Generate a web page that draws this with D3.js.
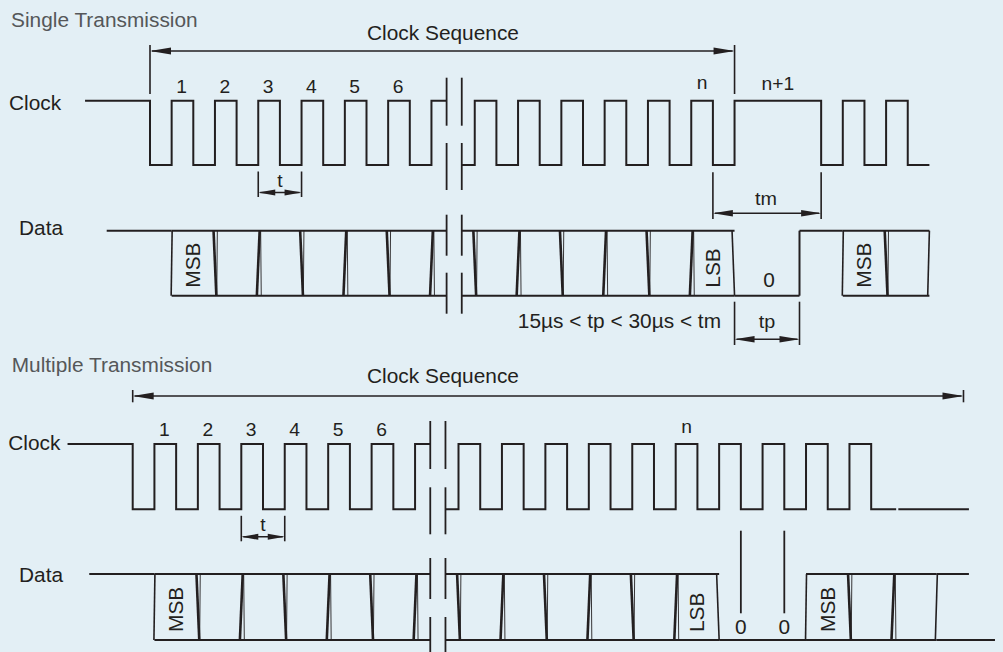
<!DOCTYPE html>
<html><head><meta charset="utf-8">
<script src="https://cdn.jsdelivr.net/npm/d3@7/dist/d3.min.js"></script>
<style>
html,body{margin:0;padding:0;background:#e3eff5;}
svg{display:block;}
text{font-family:"Liberation Sans",Arial,Helvetica,sans-serif;}
</style></head><body>
<svg id="chart" width="1003" height="652"></svg>
<script>
// ================= DATA (time unit = one clock half-period) =================
const pulseNumbers   = ["1","2","3","4","5","6"];
const pulseNumberAt  = [1.5, 3.5, 5.5, 7.5, 9.5, 11.5];
const breakSpan      = [13.7, 14.4];

// Single transmission
const singleClockHigh  = [[-3,0],[1,2],[3,4],[5,6],[7,8],[9,10],[11,12],[13,14],[15,16],[17,18],[19,20],[21,22],[23,24],[25,26],[27,31],[32,33],[34,35]];
const singleClockEnd   = 36;
const singleClockMarks = ["n", "n+1"];
const singleClockMarkAt= [25.5, 29];
const singleDataStates = [["high",-2,1],["bus",1,27],["low",27,30],["high",30,32],["bus",32,36]];
const singleCellLabels = ["MSB","LSB","MSB"];
const singleCellLabelAt= [1, 25, 32];
const singleZeroAt     = [28.5];
const singleSequence   = [0, 27];
const singleT          = [5, 7];
const singleTm         = [26, 31];
const singleTp         = [27, 30];
const timingRule       = "15µs < tp < 30µs < tm";

// Multiple transmission
const multiClockHigh   = [[-3,0],[1,2],[3,4],[5,6],[7,8],[9,10],[11,12],[13,14],[15,16],[17,18],[19,20],[21,22],[23,24],[25,26],[27,28],[29,30],[31,32],[33,34]];
const multiClockEnd    = 35.15;
const multiClockTail   = [35.25, 38.5];
const multiClockMarks  = ["n"];
const multiClockMarkAt = [25.5];
const multiDataStates  = [["high",-2,1],["bus",1,27],["low",27,31],["bus",31,37],["tail",37,38.5]];
const multiTailBottom  = 39.7;
const multiCellLabels  = ["MSB","LSB","MSB"];
const multiCellLabelAt = [1, 25, 31];
const multiZeroAt      = [28, 30];
const multiSequence    = [0, 38.25];
const multiT           = [5, 7];

// ================= DRAWING =================
const ink = "#231f20";
const svg = d3.select("#chart");
svg.append("rect").attr("width",1003).attr("height",652).attr("fill","#e3eff5");

function txt(g, x, y, s, o = {}) {
  const size = o.size || 19.5, sx = o.sx || 1.07;
  return g.append("text")
    .attr("transform", `translate(${x},${y})` + (o.rotate ? ` rotate(${o.rotate})` : "") + ` scale(${sx},1)`)
    .attr("text-anchor", o.anchor || "start")
    .attr("font-size", size)
    .attr("fill", o.fill || ink)
    .text(s);
}
function seg(g, x1, y1, x2, y2, w) {
  g.append("line").attr("x1",x1).attr("y1",y1).attr("x2",x2).attr("y2",y2)
   .attr("stroke",ink).attr("stroke-width",w||2).attr("stroke-linecap","butt");
}
function head(g, x, y, dir, len, hw) {
  g.append("path").attr("d", `M${x},${y}L${x+dir*len},${y-hw}L${x+dir*len},${y+hw}Z`).attr("fill",ink);
}
function dim(g, xa, xb, y, t0, t1, len, hw) {
  seg(g, xa, t0, xa, t1, 1.6); seg(g, xb, t0, xb, t1, 1.6);
  seg(g, xa + 2, y, xb - 2, y, 1.5);
  head(g, xa, y, 1, len, hw); head(g, xb, y, -1, len, hw);
}
function clockPts(highs, end) {
  const pts = [];
  highs.forEach(([a,b], i) => {
    if (i === 0) pts.push([a,1]); else { pts.push([a,0]); pts.push([a,1]); }
    pts.push([b,1]); pts.push([b,0]);
  });
  pts.push([end,0]);
  return pts;
}

function panel(c) {
  const x  = d3.scaleLinear().domain([0,1]).range([c.x0, c.x0 + c.h]);
  const yc = d3.scaleLinear().domain([0,1]).range([c.clockLow, c.clockHigh]);
  const yd = d3.scaleLinear().domain([0,1]).range([c.dataLow, c.dataHigh]);
  const g = svg.append("g");

  const id = "clip-" + c.name;
  const cp = svg.append("clipPath").attr("id", id);
  cp.append("rect").attr("x",0).attr("y",0).attr("width",x(breakSpan[0])).attr("height",652);
  cp.append("rect").attr("x",x(breakSpan[1])).attr("y",0).attr("width",1003 - x(breakSpan[1])).attr("height",652);
  const w = g.append("g").attr("clip-path", `url(#${id})`);

  // titles and labels
  txt(g, c.titlePos[0], c.titlePos[1], c.title, {fill:"#555759"});
  txt(g, c.clockLabelPos[0], c.clockLabelPos[1], "Clock");
  txt(g, c.dataLabelPos[0], c.dataLabelPos[1], "Data");

  // clock waveform
  const line = d3.line().x(d => x(d[0])).y(d => yc(d[1]));
  w.append("path").attr("d", line(clockPts(c.clockHigh_, c.clockEnd)))
    .attr("fill","none").attr("stroke",ink).attr("stroke-width",2).attr("stroke-linejoin","miter");
  if (c.clockTail) seg(w, x(c.clockTail[0]), yc(0), x(c.clockTail[1]), yc(0), 2);

  pulseNumbers.forEach((s, i) => txt(g, x(pulseNumberAt[i]) - 1, c.numY, s, {size:18, anchor:"middle"}));
  c.marks.forEach((s, i) => txt(g, x(c.markAt[i]), c.markY[i], s, {size:18, anchor:"middle"}));

  // data waveform
  const H = yd(1), L = yd(0);
  let k = 0;
  c.states.forEach(([st, a, b], i) => {
    if (st === "high") seg(w, x(a), H, x(b), H, 2);
    if (st === "low")  seg(w, x(a), L, x(b), L, 2);
    if (st === "bus")  { seg(w, x(a), H, x(b), H, 2); seg(w, x(a), L, x(b), L, 2); }
    if (st === "tail") { seg(w, x(a), H, x(b), H, 2); seg(w, x(a), L, x(c.tailBottom), L, 2); }
    if (i > 0) {
      const prev = c.states[i-1][0];
      if (st === "bus" && prev !== "bus") seg(w, x(a) + 0.5, H, x(a) - 0.5, L, 1.6);
      if (prev === "bus" && st === "low") seg(w, x(a) - 2.5, H, x(a), L, 1.6);
      if (prev === "low" && st === "high") seg(w, x(a), H, x(a), L, 2);
      if (prev === "bus" && st === "tail") seg(w, x(a) + 1, H, x(a) - 1, L, 1.6);
    }
    if (st === "bus") {
      for (let t = a + 2; t < b - 0.01; t += 2) {
        const s = (k % 2 === 0) ? 1 : -1; k++;
        seg(w, x(t) - s * 1.4, H, x(t) + s * 1.4, L, 2.6);
        seg(w, x(t) + 2.4, H, x(t) + 2.4 - s * 0.6, L, 0.9);
      }
      if (i === c.states.length - 1) seg(w, x(b), H, x(b) - 1.7, L, 1.6);
    }
  });
  c.cellLabels.forEach((s, i) => txt(g, x(c.cellLabelAt[i] + 1) + 7, L - 8, s, {rotate:-90, anchor:"start"}));

  // break marks
  [x(breakSpan[0]), x(breakSpan[1])].forEach(bx => {
    seg(g, bx, c.clockHigh - 23, bx, c.clockHigh + 25, 1.8);
    seg(g, bx, c.clockLow - 22, bx, c.clockLow + 25, 1.8);
    seg(g, bx, c.dataHigh - 16, bx, c.dataHigh + 25, 1.8);
    seg(g, bx, c.dataLow - 23, bx, c.dataLow + 18, 1.8);
  });

  // clock sequence arrow
  const s0 = x(c.sequence[0]), s1 = x(c.sequence[1]);
  dim(g, s0, s1, c.seqY, c.seqTick[0], c.seqTick[1], 21, 3.6);
  txt(g, c.seqLabelX, c.seqLabelY, "Clock Sequence", {anchor:"middle"});

  // t dimension
  dim(g, x(c.t[0]), x(c.t[1]), c.clockLow + 27.5, c.clockLow + 6.5, c.clockLow + 32, 17, 3);
  txt(g, (x(c.t[0]) + x(c.t[1])) / 2, c.clockLow + 21.5, "t", {size:18, anchor:"middle"});
  return {x, yc, yd, g};
}

// ---- single transmission ----
const S = panel({
  name:"single", title:"Single Transmission", titlePos:[11,27.3],
  x0:150, h:21.65, clockHigh:100.7, clockLow:165, dataHigh:230.7, dataLow:295.7,
  clockLabelPos:[9,110], dataLabelPos:[19,235],
  clockHigh_: singleClockHigh, clockEnd: singleClockEnd,
  numY:92.7, marks: singleClockMarks, markAt: singleClockMarkAt, markY:[89, 90],
  states: singleDataStates, cellLabels: singleCellLabels, cellLabelAt: singleCellLabelAt,
  sequence: singleSequence, seqY:51, seqTick:[45,94], seqLabelX:443, seqLabelY:40,
  t: singleT
});
{
  const {x, yd, g} = S;
  singleZeroAt.forEach(t => txt(g, x(t) + 2, yd(0) - 8.4, "0", {anchor:"middle"}));
  dim(g, x(singleTm[0]), x(singleTm[1]), 213.3, 172.3, 219, 20, 3.2);
  txt(g, (x(singleTm[0]) + x(singleTm[1])) / 2 - 1, 205, "tm", {size:18.5, anchor:"middle"});
  dim(g, x(singleTp[0]), x(singleTp[1]), 339.3, 301.7, 345, 20, 3.2);
  txt(g, (x(singleTp[0]) + x(singleTp[1])) / 2, 328.3, "tp", {size:18.5, anchor:"middle"});
  txt(g, x(singleTp[0]) - 13.5, 328.3, timingRule, {anchor:"end"});
}

// ---- multiple transmission ----
const M = panel({
  name:"multi", title:"Multiple Transmission", titlePos:[11.7,371.7],
  x0:132.7, h:21.72, clockHigh:444, clockLow:509.3, dataHigh:574, dataLow:640,
  clockLabelPos:[8.3,450], dataLabelPos:[19,581.7],
  clockHigh_: multiClockHigh, clockEnd: multiClockEnd, clockTail: multiClockTail,
  numY:436, marks: multiClockMarks, markAt: multiClockMarkAt, markY:[433.3],
  states: multiDataStates, tailBottom: multiTailBottom,
  cellLabels: multiCellLabels, cellLabelAt: multiCellLabelAt,
  sequence: multiSequence, seqY:396, seqTick:[390,402.3], seqLabelX:443, seqLabelY:383.3,
  t: multiT
});
{
  const {x, g} = M;
  multiZeroAt.forEach(t => {
    seg(g, x(t), 530.7, x(t), 613.3, 1.8);
    txt(g, x(t), 634, "0", {anchor:"middle"});
  });
}
</script>
</body></html>
